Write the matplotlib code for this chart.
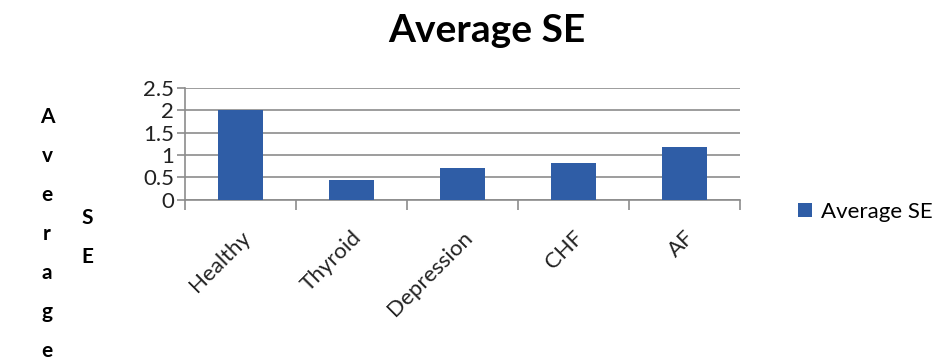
import numpy as np
import matplotlib.pyplot as plt

plt.rcParams['font.family'] = ['Lato', 'DejaVu Sans']

categories = ['Healthy', 'Thyroid', 'Depression', 'CHF', 'AF']
avg_se = [2.0, 0.44, 0.71, 0.83, 1.19]
y_ticks = [0, 0.5, 1, 1.5, 2, 2.5]
y_tick_labels = ['0', '0.5', '1', '1.5', '2', '2.5']

bar_color = '#2F5DA6'
line_color = '#8C8C8C'

fig = plt.figure(figsize=(9.4, 3.64), dpi=100)
ax = fig.add_axes([0.197, 0.451, 0.59, 0.307])

x = np.arange(len(categories))
ax.bar(x, avg_se, width=0.4, color=bar_color, label='Average SE', zorder=3)

ax.set_xlim(-0.5, len(categories) - 0.5)
ax.set_ylim(0, 2.5)
ax.set_yticks(y_ticks)
ax.set_yticklabels(y_tick_labels, fontsize=16, color='#222222')
ax.yaxis.grid(True, color=line_color, linewidth=1.2, zorder=0)
ax.tick_params(axis='y', length=6, color=line_color, width=1.2, pad=2)

# labels sit at category centres, tick marks at the boundaries
ax.set_xticks(x)
ax.set_xticklabels(categories, fontsize=16, rotation=45, ha='right',
                   rotation_mode='anchor', color='#222222')
ax.tick_params(axis='x', which='major', length=0, pad=20)
ax.set_xticks(np.arange(-0.5, len(categories)), minor=True)
ax.tick_params(axis='x', which='minor', length=7, color=line_color, width=1.2)

for side in ['top', 'right']:
    ax.spines[side].set_visible(False)
for side in ['left', 'bottom']:
    ax.spines[side].set_color(line_color)
    ax.spines[side].set_linewidth(1.2)

fig.text(0.518, 0.915, 'Average SE', ha='center', va='center',
         fontsize=28, fontweight='bold')

# stacked y axis title
for i, ch in enumerate('Average'):
    fig.text(0.050, 1 - (117 + 39 * i) / 364, ch, ha='center', va='center',
             fontsize=15, fontweight='bold')
for i, ch in enumerate('SE'):
    fig.text(0.093, 1 - (218 + 39 * i) / 364, ch, ha='center', va='center',
             fontsize=15, fontweight='bold')

fig.legend(loc='center left', bbox_to_anchor=(0.828, 0.418), frameon=False,
           fontsize=16, handlelength=0.6, handleheight=0.6, handletextpad=0.4)

fig.savefig('out.png', dpi=100)
